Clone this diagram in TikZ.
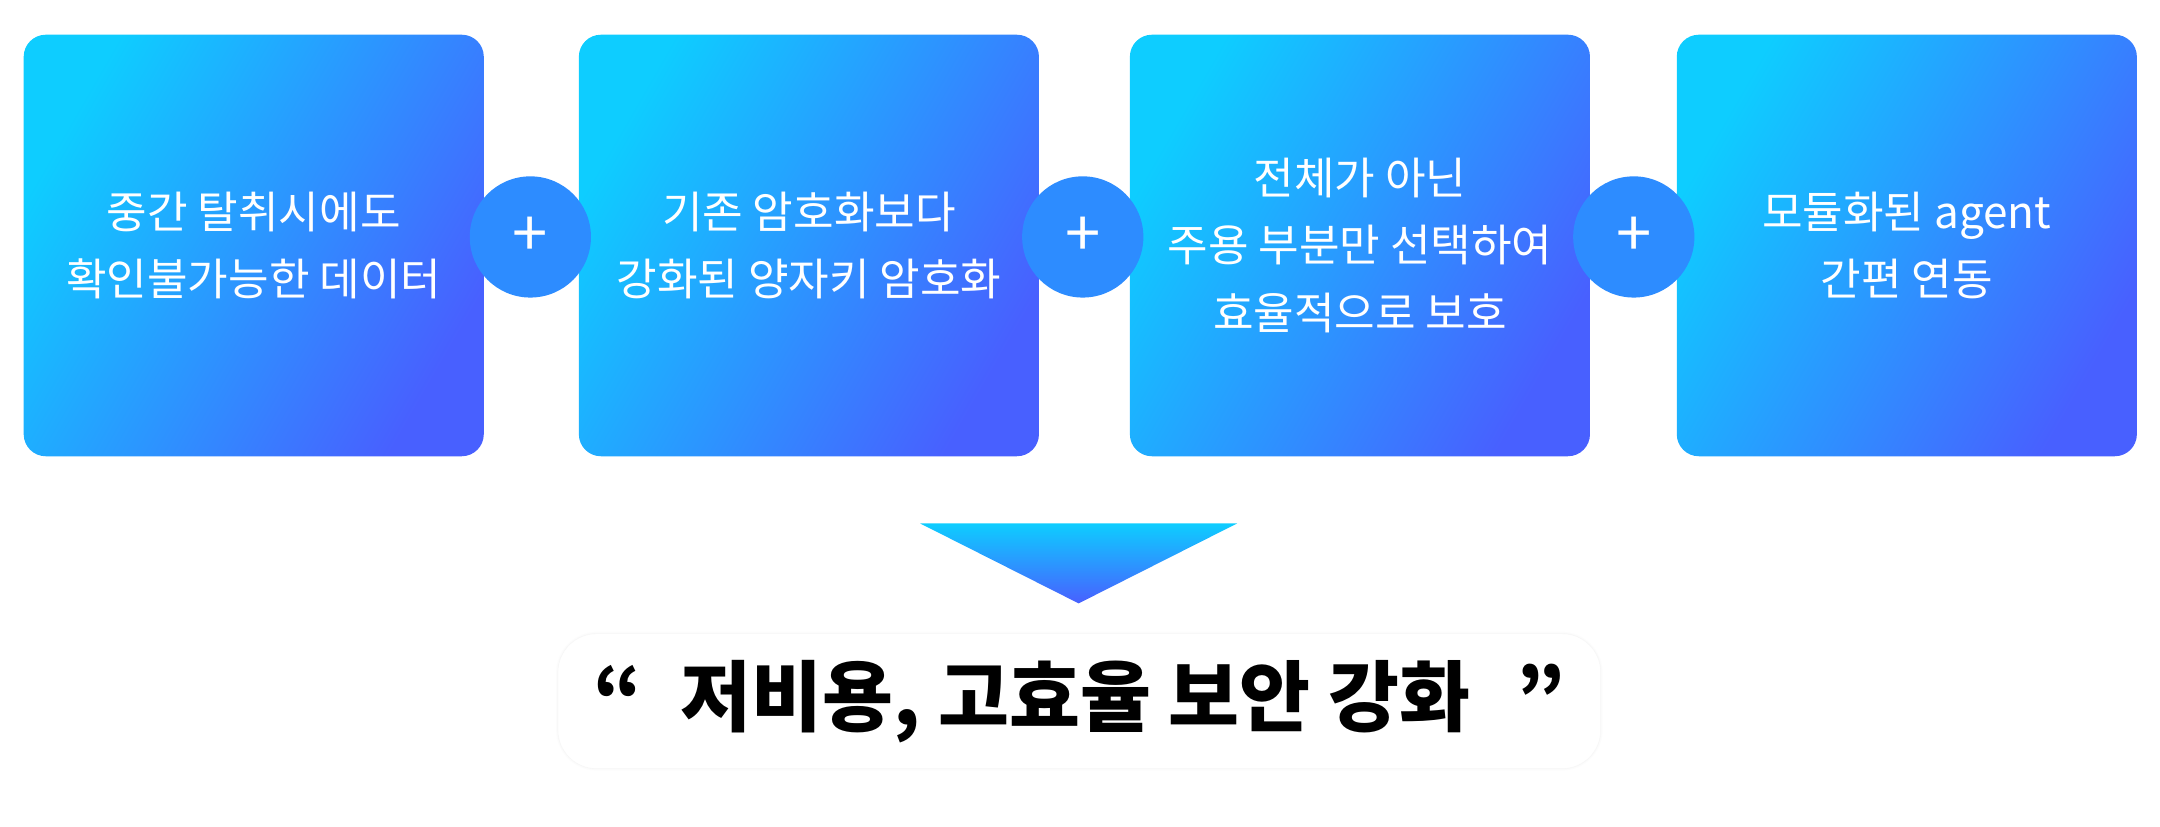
\documentclass[tikz,border=0pt]{standalone}
\usepackage{fontspec}
\setmainfont{Noto Sans CJK KR}
\usetikzlibrary{shadows.blur}
\definecolor{ca}{RGB}{14,205,255}
\definecolor{cb}{RGB}{72,96,255}
\definecolor{cc}{RGB}{45,140,255}
\tikzset{
 card/.style={rounded corners=16pt, shading=axis, left color=ca, right color=cb, shading angle=60, minimum width=334pt, minimum height=306pt, anchor=north west, inner sep=0pt},
 ctext/.style={text=white, font=\fontsize{32}{49}\selectfont, align=center},
 plus/.style={circle, fill=cc, minimum size=88pt, text=white, font=\fontsize{46}{46}\selectfont, inner sep=0pt},
}
\begin{document}
\begin{tikzpicture}[x=1pt,y=-1pt]
\useasboundingbox (0,0) rectangle (1568,600);
\node[card] (b1) at (17,25) {};
\node[card] (b2) at (420,25) {};
\node[card] (b3) at (820,25) {};
\node[card] (b4) at (1217,25) {};
\node[ctext] (t1) at (b1.center) {중간 탈취시에도\\확인불가능한 데이터};
\node[ctext] (t2) at (b2.center) {기존 암호화보다\\강화된 양자키 암호화};
\node[ctext] (t3) at (b3.center) {전체가 아닌\\주용 부분만 선택하여\\효율적으로 보호};
\node[ctext] (t4) at (b4.center) {모듈화된 agent\\간편 연동};
\node[plus] (p1) at (385,172) {+};
\node[plus] (p2) at (786,172) {+};
\node[plus] (p3) at (1186,172) {+};
\shade[top color=ca, bottom color=cb] (668,380) -- (898,380) -- (783,438) -- cycle;
\node[draw=gray!6, fill=white, rounded corners=28pt, minimum width=757pt, minimum height=98pt, blur shadow={shadow blur steps=8, shadow xshift=0pt, shadow yshift=0pt, shadow opacity=6}] (res) at (783.5,509) {};
\node[font=\bfseries\fontsize{56}{56}\selectfont] (rt) at (res.center) {“\hspace{0.5em}저비용, 고효율 보안 강화\hspace{0.6em}”};
\end{tikzpicture}
\end{document}
